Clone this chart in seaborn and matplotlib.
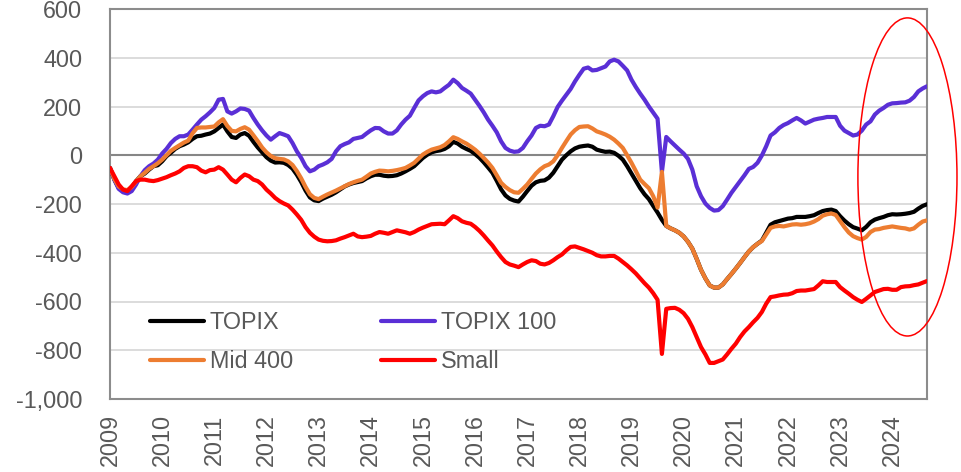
import matplotlib
matplotlib.use("Agg")
import matplotlib.pyplot as plt
from matplotlib.patches import Ellipse
import numpy as np
import pandas as pd
import seaborn as sns

# monthly values, Jan 2009 .. Sep 2024
years = [str(y) for y in range(2009, 2025)]

topix = [
    -52, -100, -134, -147, -147, -134, -106, -86, -75, -59, -45, -41,
    -25, -4, 10, 26, 37, 44, 53, 67, 78, 80, 85, 89,
    98, 112, 126, 98, 75, 71, 85, 91, 80, 55, 32, 12,
    -8, -22, -30, -29, -31, -40, -55, -80, -110, -145, -173, -185,
    -188, -178, -170, -162, -152, -140, -128, -120, -114, -110, -106, -95,
    -86, -80, -80, -84, -86, -85, -82, -75, -66, -56, -45, -28,
    -11, 2, 12, 17, 20, 26, 37, 55, 48, 35, 26, 18,
    5, -10, -29, -50, -72, -105, -140, -165, -179, -186, -190, -170,
    -147, -125, -111, -105, -103, -92, -72, -45, -18, 0, 16, 28,
    35, 38, 40, 35, 23, 18, 14, 15, 10, -2, -18, -45,
    -75, -105, -135, -160, -180, -208, -235, -265, -290, -300, -308, -318,
    -333, -355, -383, -425, -470, -505, -534, -543, -543, -530, -508, -487,
    -465, -442, -418, -395, -377, -363, -350, -318, -285, -275, -270, -265,
    -260, -258, -253, -253, -253, -250, -246, -237, -229, -225, -223, -229,
    -250, -268, -283, -295, -301, -308, -294, -275, -264, -258, -253, -246,
    -242, -243, -242, -240, -237, -232, -219, -208, -201,
]

topix100 = [
    -52, -100, -138, -152, -157, -147, -120, -86, -61, -45, -34, -18,
    7, 26, 50, 67, 78, 78, 85, 105, 126, 146, 160, 176,
    194, 228, 231, 180, 171, 180, 192, 190, 183, 153, 126, 102,
    81, 64, 78, 91, 85, 78, 50, 16, -11, -45, -66, -59,
    -45, -38, -29, -15, 16, 37, 46, 53, 67, 71, 75, 89,
    102, 112, 111, 98, 89, 89, 102, 126, 146, 162, 194, 225,
    242, 255, 262, 258, 262, 276, 289, 310, 296, 276, 265, 253,
    228, 203, 176, 146, 121, 94, 57, 30, 19, 14, 16, 30,
    57, 81, 112, 121, 119, 126, 160, 198, 224, 248, 272, 303,
    330, 355, 360, 348, 350, 357, 364, 385, 392, 385, 367, 348,
    310, 280, 253, 228, 200, 175, 150, -68, 75, 57, 40, 23,
    7, -15, -59, -127, -168, -198, -216, -227, -225, -209, -182, -154,
    -130, -106, -82, -56, -48, -31, -1, 37, 81, 94, 112, 124,
    132, 143, 153, 143, 130, 138, 146, 150, 153, 157, 157, 157,
    121, 101, 91, 81, 85, 101, 126, 139, 167, 183, 194, 207,
    213, 214, 216, 217, 224, 239, 262, 274, 283,
]

mid400 = [
    -52, -97, -128, -140, -143, -130, -108, -86, -72, -56, -45, -33,
    -18, 0, 18, 30, 41, 52, 60, 90, 112, 114, 114, 116,
    118, 135, 148, 120, 100, 98, 108, 115, 105, 82, 58, 32,
    12, -3, -12, -15, -17, -25, -40, -65, -95, -130, -160, -175,
    -180, -170, -161, -153, -145, -136, -127, -118, -111, -105, -100, -88,
    -75, -68, -63, -64, -66, -64, -61, -57, -52, -42, -31, -14,
    3, 14, 23, 28, 33, 42, 57, 74, 67, 57, 48, 36,
    23, 7, -11, -30, -52, -82, -113, -130, -143, -152, -154, -138,
    -120, -97, -75, -58, -45, -38, -25, 0, 30, 58, 85, 103,
    116, 118, 119, 110, 98, 92, 85, 76, 64, 48, 30, 0,
    -31, -65, -100, -118, -135, -168, -215, -68, -290, -300, -308, -318,
    -333, -355, -383, -425, -470, -505, -534, -543, -543, -530, -508, -487,
    -465, -442, -418, -395, -377, -363, -352, -325, -298, -292, -290, -292,
    -288, -284, -283, -285, -283, -279, -272, -262, -248, -242, -239, -245,
    -270, -295, -317, -332, -340, -346, -335, -315, -305, -303, -298, -295,
    -292, -295, -298, -300, -305, -300, -285, -272, -267,
]

small = [
    -52, -86, -120, -141, -147, -127, -106, -100, -100, -104, -106, -102,
    -96, -90, -82, -75, -66, -52, -45, -45, -49, -63, -70, -61,
    -59, -49, -59, -79, -100, -111, -93, -79, -86, -100, -106, -120,
    -141, -157, -175, -188, -198, -206, -223, -243, -265, -295, -318, -334,
    -346, -351, -353, -352, -349, -342, -336, -329, -322, -333, -336, -334,
    -331, -322, -315, -318, -322, -315, -308, -312, -316, -322, -315, -305,
    -297, -290, -283, -282, -281, -283, -267, -250, -258, -271, -277, -281,
    -294, -310, -329, -350, -370, -395, -418, -438, -448, -453, -459, -448,
    -438, -431, -434, -445, -448, -442, -431, -418, -407, -390, -376, -374,
    -380, -386, -393, -400, -410, -415, -415, -413, -413, -424, -438, -452,
    -468, -485, -505, -525, -543, -566, -593, -815, -630, -627, -626, -634,
    -648, -671, -705, -746, -787, -817, -852, -852, -845, -838, -817, -794,
    -773, -746, -723, -705, -685, -667, -643, -609, -582, -579, -575, -572,
    -571, -566, -557, -555, -555, -552, -549, -534, -517, -520, -520, -520,
    -541, -555, -568, -582, -593, -602, -589, -575, -561, -555, -549, -548,
    -552, -552, -541, -538, -537, -533, -530, -523, -516,
]

series_names = ["TOPIX", "TOPIX 100", "Mid 400", "Small"]
colors = ["#000000", "#5A2FD6", "#ED7D31", "#FF0000"]

n = len(topix)
wide = pd.DataFrame({
    "month": np.arange(n),
    "TOPIX": topix,
    "TOPIX 100": topix100,
    "Mid 400": mid400,
    "Small": small,
})
df = wide.melt(id_vars="month", var_name="index", value_name="value")

sns.set_theme(style="white")
plt.rcParams["font.family"] = ["Liberation Sans", "DejaVu Sans"]

text_grey = "#595959"
fs = 16.8

fig = plt.figure(figsize=(9.61, 4.72), dpi=100)
ax = fig.add_axes([110 / 961, 1 - 399 / 472, (927 - 110) / 961, (399 - 9) / 472])

sns.lineplot(data=df, x="month", y="value", hue="index", hue_order=series_names,
             palette=colors, linewidth=3, ax=ax, zorder=3)

# axes styling
ax.set_xlim(0, n - 1)
ax.set_ylim(-1000, 600)
yt = list(range(-1000, 601, 200))
ax.set_yticks(yt)
ax.set_yticklabels([f"{v:,}" for v in yt])
ax.set_xticks(range(0, n, 12))
ax.set_xticklabels(years, rotation=90)
ax.tick_params(axis="y", length=0, pad=20, labelsize=fs, labelcolor=text_grey)
ax.tick_params(axis="x", length=0, pad=11, labelsize=fs, labelcolor=text_grey)
ax.set_xlabel("")
ax.set_ylabel("")
ax.grid(False)
ax.yaxis.grid(True, color="#d9d9d9", linewidth=1.3)
ax.axhline(0, color="#868686", linewidth=1.5, zorder=2)
for sp in ax.spines.values():
    sp.set_visible(True)
    sp.set_color("#8c8c8c")
    sp.set_linewidth(1.5)

# legend: two columns, row order TOPIX / TOPIX 100, Mid 400 / Small
handles, labels = ax.get_legend_handles_labels()
lookup = dict(zip(labels, handles))
order = ["TOPIX", "Mid 400", "TOPIX 100", "Small"]
leg = ax.legend([lookup[k] for k in order], order, ncol=2, loc="upper left",
                bbox_to_anchor=(150 / 961, 1 - 311 / 472), bbox_transform=fig.transFigure,
                frameon=False, fontsize=fs, handlelength=2.3, handletextpad=0.25,
                columnspacing=3.8, labelspacing=0.68, borderpad=0, borderaxespad=0)
for t in leg.get_texts():
    t.set_color(text_grey)

# highlight ellipse around the latest period
ax.add_patch(Ellipse((183.5, -89), width=22.8, height=1305, fill=False,
                     edgecolor="#FF0000", linewidth=1.1, clip_on=False, zorder=5))

fig.savefig("out.png", dpi=100)
